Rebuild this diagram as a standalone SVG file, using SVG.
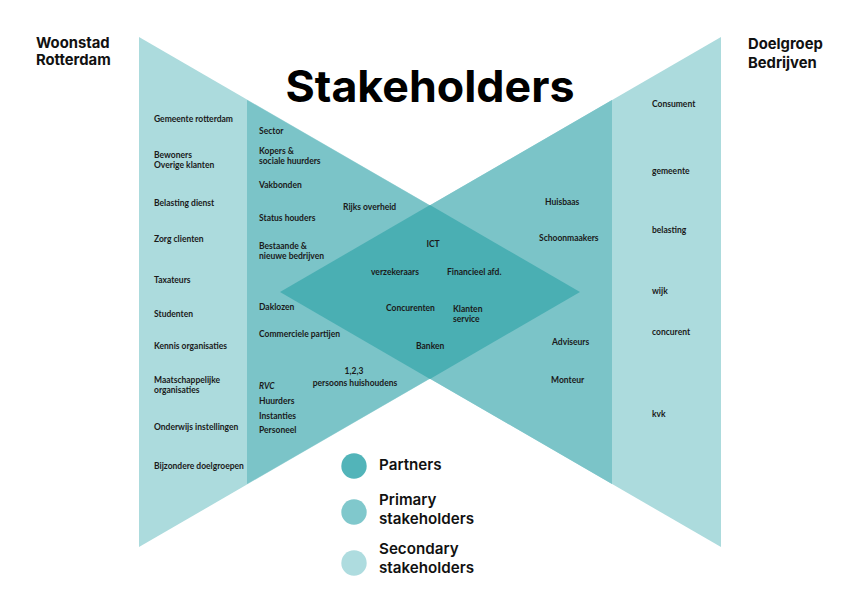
<svg xmlns="http://www.w3.org/2000/svg" width="843" height="596" viewBox="0 0 843 596">
<style>
.light{fill:#acdbdd}
.mid{fill:#7bc4c8}
.dark{fill:#4aafb3}
.lbl{font-family:Lato,"Liberation Sans",sans-serif;font-size:8.5px;font-weight:bold;fill:#1a1a1a}
.it{font-style:italic}
.mid-t{text-anchor:middle}
.hdr{font-family:Inter,"Liberation Sans",sans-serif;font-size:14.8px;font-weight:bold;fill:#111}
.title{font-family:Inter,"Liberation Sans",sans-serif;font-size:44px;font-weight:bold;fill:#000}
.leg{font-family:Inter,"Liberation Sans",sans-serif;font-size:15.2px;font-weight:600;fill:#111}
</style>
<rect width="843" height="596" fill="#fff"/>
<g id="shapes">
<polygon class="light" points="139,37 580,292 139,547"/>
<polygon class="light" points="721,37 280,292 721,547"/>
<polygon class="mid" points="247,100 580,292 247,484"/>
<polygon class="mid" points="612,100 280,292 612,484"/>
<polygon class="dark" points="280,292 430,205 580,292 430,379"/>
</g>
<g id="titles">
<text class="title" x="430" y="102" text-anchor="middle" textLength="289" lengthAdjust="spacingAndGlyphs">Stakeholders</text>
<text class="hdr" x="36" y="48">Woonstad</text>
<text class="hdr" x="36" y="65">Rotterdam</text>
<text class="hdr" x="748" y="49">Doelgroep</text>
<text class="hdr" x="748" y="68">Bedrijven</text>
</g>
<g id="secondary-left">
<text class="lbl" x="154" y="122">Gemeente rotterdam</text>
<text class="lbl" x="154" y="158">Bewoners</text>
<text class="lbl" x="154" y="168">Overige klanten</text>
<text class="lbl" x="154" y="206">Belasting dienst</text>
<text class="lbl" x="154" y="242">Zorg clienten</text>
<text class="lbl" x="154" y="283">Taxateurs</text>
<text class="lbl" x="154" y="317">Studenten</text>
<text class="lbl" x="154" y="349">Kennis organisaties</text>
<text class="lbl" x="154" y="383">Maatschappelijke</text>
<text class="lbl" x="154" y="393">organisaties</text>
<text class="lbl" x="154" y="430">Onderwijs instellingen</text>
<text class="lbl" x="154" y="469">Bijzondere doelgroepen</text>
</g>
<g id="primary-left">
<text class="lbl" x="259" y="134">Sector</text>
<text class="lbl" x="259" y="154">Kopers &amp;</text>
<text class="lbl" x="259" y="164">sociale huurders</text>
<text class="lbl" x="259" y="188">Vakbonden</text>
<text class="lbl" x="259" y="221">Status houders</text>
<text class="lbl" x="259" y="249">Bestaande &amp;</text>
<text class="lbl" x="259" y="259">nieuwe bedrijven</text>
<text class="lbl" x="259" y="310">Daklozen</text>
<text class="lbl" x="259" y="337">Commerciele partijen</text>
<text class="lbl it" x="259" y="389">RVC</text>
<text class="lbl" x="259" y="404">Huurders</text>
<text class="lbl" x="259" y="419">Instanties</text>
<text class="lbl" x="259" y="433">Personeel</text>
<text class="lbl" x="343" y="210">Rijks overheid</text>
<text class="lbl mid-t" x="354" y="374">1,2,3</text>
<text class="lbl mid-t" x="355" y="386">persoons huishoudens</text>
</g>
<g id="partners">
<text class="lbl mid-t" x="433" y="247">ICT</text>
<text class="lbl" x="371" y="275">verzekeraars</text>
<text class="lbl" x="447" y="275">Financieel afd.</text>
<text class="lbl" x="386" y="311">Concurenten</text>
<text class="lbl" x="453" y="312">Klanten</text>
<text class="lbl" x="453" y="322">service</text>
<text class="lbl" x="416" y="349">Banken</text>
</g>
<g id="primary-right">
<text class="lbl" x="545" y="205">Huisbaas</text>
<text class="lbl" x="539" y="241">Schoonmaakers</text>
<text class="lbl" x="552" y="345">Adviseurs</text>
<text class="lbl" x="551" y="383">Monteur</text>
</g>
<g id="secondary-right">
<text class="lbl" x="652" y="107">Consument</text>
<text class="lbl" x="652" y="174">gemeente</text>
<text class="lbl" x="652" y="233">belasting</text>
<text class="lbl" x="652" y="294">wijk</text>
<text class="lbl" x="652" y="335">concurent</text>
<text class="lbl" x="652" y="417">kvk</text>
</g>
<g id="legend">
<circle cx="354" cy="466" r="12.7" fill="#52b4b9"/>
<circle cx="354" cy="512" r="12.7" fill="#80c8cc"/>
<circle cx="354" cy="563" r="12.7" fill="#aedcdf"/>
<text class="leg" x="379" y="470">Partners</text>
<text class="leg" x="379" y="505">Primary</text>
<text class="leg" x="379" y="524">stakeholders</text>
<text class="leg" x="379" y="554">Secondary</text>
<text class="leg" x="379" y="573">stakeholders</text>
</g>
</svg>
